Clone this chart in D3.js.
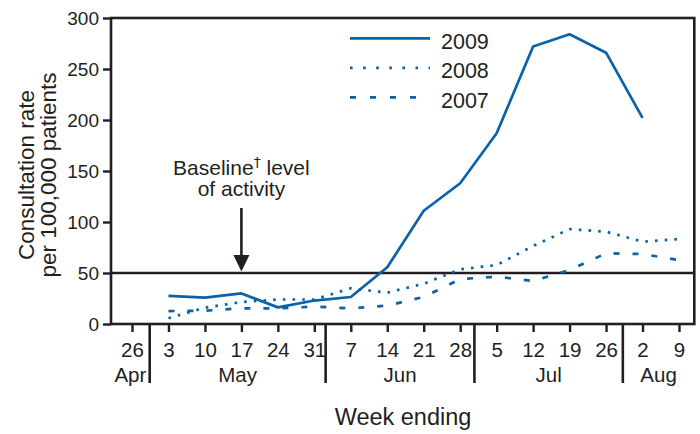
<!DOCTYPE html>
<html>
<head>
<meta charset="utf-8">
<script src="https://cdn.jsdelivr.net/npm/d3@7/dist/d3.min.js"></script>
<style>
  html, body { margin: 0; padding: 0; background: #fff; }
  svg { display: block; font-family: "Liberation Sans", Arial, sans-serif; }
</style>
</head>
<body>
<svg id="chart" width="700" height="434"></svg>
<script>
// ---- data ----
const weekLabels = ["26","3","10","17","24","31","7","14","21","28","5","12","19","26","2","9"];
const monthLabels = ["Apr","May","Jun","Jul","Aug"];
const monthBreaks = [0.485, 5.31, 9.39, 13.46];   // separator positions between weeks
const yTicks = [0, 50, 100, 150, 200, 250, 300];
const baselineLevel = 50;
const rate2009 = [null, 27.5, 25.8, 30, 16.3, 23, 26.5, 55.6, 111, 138, 187, 272, 284, 266, 202, null];
const rate2008 = [null, 5.6, 16, 21.5, 24, 24, 35, 30.7, 39.5, 53.6, 57.8, 76.5, 93, 90.5, 80.7, 83.3];
const rate2007 = [null, 12.7, 13, 15.4, 15.4, 17, 15.4, 18, 26.5, 44, 46.4, 42.2, 53, 69.3, 68.6, 62.7];
const seriesNames = ["2009", "2008", "2007"];

// ---- layout ----
const svg = d3.select("#chart");
const L = 111, R = 694.3, T = 18, B = 324;
const ink = "#231f20", blue = "#0a62a9";
const x = d3.scaleLinear().domain([-0.576, 15.42]).range([L, R]);
const y = d3.scaleLinear().domain([0, 300]).range([B, T]);

const styles = {
  "2009": null,
  "2008": "2.6,7.1",
  "2007": "6,13"
};
const seriesData = { "2009": rate2009, "2008": rate2008, "2007": rate2007 };

// baseline level line
svg.append("line")
  .attr("x1", L).attr("x2", R).attr("y1", y(baselineLevel)).attr("y2", y(baselineLevel))
  .attr("stroke", ink).attr("stroke-width", 2.6);

// series lines
const line = d3.line()
  .defined(d => d != null)
  .x((d, i) => x(i))
  .y(d => y(d));

seriesNames.forEach(name => {
  svg.append("path")
    .datum(seriesData[name])
    .attr("d", line)
    .attr("fill", "none")
    .attr("stroke", blue)
    .attr("stroke-width", 2.7)
    .attr("stroke-linejoin", "round")
    .attr("stroke-dasharray", styles[name]);
});

// frame
svg.append("rect")
  .attr("x", L).attr("y", T).attr("width", R - L).attr("height", B - T)
  .attr("fill", "none").attr("stroke", ink).attr("stroke-width", 2.6);

// y axis
const yAxis = d3.axisLeft(y).tickValues(yTicks).tickSize(8).tickPadding(4);
const gy = svg.append("g").attr("transform", `translate(${L},0)`).call(yAxis);
gy.select(".domain").remove();
gy.selectAll(".tick line").attr("stroke", ink).attr("stroke-width", 2.4);
gy.selectAll(".tick text").attr("fill", ink).style("font-size", "19px")
  .style("font-family", "'Liberation Sans', Arial, sans-serif");

// x axis
const xAxis = d3.axisBottom(x).tickValues(d3.range(weekLabels.length))
  .tickFormat(i => weekLabels[i]).tickSize(8).tickPadding(10);
const gx = svg.append("g").attr("transform", `translate(0,${B})`).call(xAxis);
gx.select(".domain").remove();
gx.selectAll(".tick line").attr("stroke", ink).attr("stroke-width", 2.4);
gx.selectAll(".tick text").attr("fill", ink).style("font-size", "20.5px")
  .style("font-family", "'Liberation Sans', Arial, sans-serif");

// month separators
svg.selectAll(".sep").data(monthBreaks).enter().append("line")
  .attr("x1", d => x(d)).attr("x2", d => x(d))
  .attr("y1", B).attr("y2", 383)
  .attr("stroke", ink).attr("stroke-width", 2.6);

// month labels
const bounds = [x.domain()[0], ...monthBreaks, x.domain()[1]];
svg.selectAll(".month").data(monthLabels).enter().append("text")
  .attr("x", (d, i) => (x(bounds[i]) + x(bounds[i + 1])) / 2)
  .attr("y", 382)
  .attr("text-anchor", "middle")
  .attr("fill", ink)
  .style("font-size", "20.5px")
  .text(d => d);

// axis titles
svg.append("text")
  .attr("x", 403).attr("y", 425)
  .attr("text-anchor", "middle").attr("fill", ink)
  .style("font-size", "23.5px")
  .text("Week ending");

const yt = svg.append("text")
  .attr("transform", "translate(0,175) rotate(-90)")
  .attr("text-anchor", "middle").attr("fill", ink)
  .style("font-size", "22.5px");
yt.append("tspan").attr("x", 0).attr("y", 34).text("Consultation rate");
yt.append("tspan").attr("x", 0).attr("y", 56).text("per 100,000 patients");

// annotation
const ann = svg.append("text")
  .attr("text-anchor", "middle").attr("fill", ink)
  .style("font-size", "21px");
const t1 = ann.append("tspan").attr("x", x(3)).attr("y", 175);
t1.append("tspan").text("Baseline");
t1.append("tspan").attr("dy", -8).attr("fill", ink)
  .style("font-size", "14px").style("font-family", "'DejaVu Sans', sans-serif").text("†");
t1.append("tspan").attr("dy", 8).text(" level");
ann.append("tspan").attr("x", x(3)).attr("y", 196).text("of activity");

svg.append("line")
  .attr("x1", x(3)).attr("x2", x(3)).attr("y1", 208).attr("y2", 258)
  .attr("stroke", ink).attr("stroke-width", 2.6);
svg.append("path")
  .attr("d", `M${x(3) - 8},255 L${x(3) + 8},255 L${x(3)},${y(baselineLevel) - 1.5} Z`)
  .attr("fill", ink);

// legend
const legend = svg.append("g");
seriesNames.forEach((name, i) => {
  const ly = 38.3 + i * 29.5;
  legend.append("line")
    .attr("x1", 350).attr("x2", 430).attr("y1", ly).attr("y2", ly)
    .attr("stroke", blue).attr("stroke-width", 2.7)
    .attr("stroke-dasharray", name === "2008" ? "2.6,10.5" : name === "2007" ? "6,14" : null);
  legend.append("text")
    .attr("x", 441).attr("y", ly + 10.5)
    .attr("fill", ink).style("font-size", "21.5px")
    .text(name);
});
</script>
</body>
</html>
